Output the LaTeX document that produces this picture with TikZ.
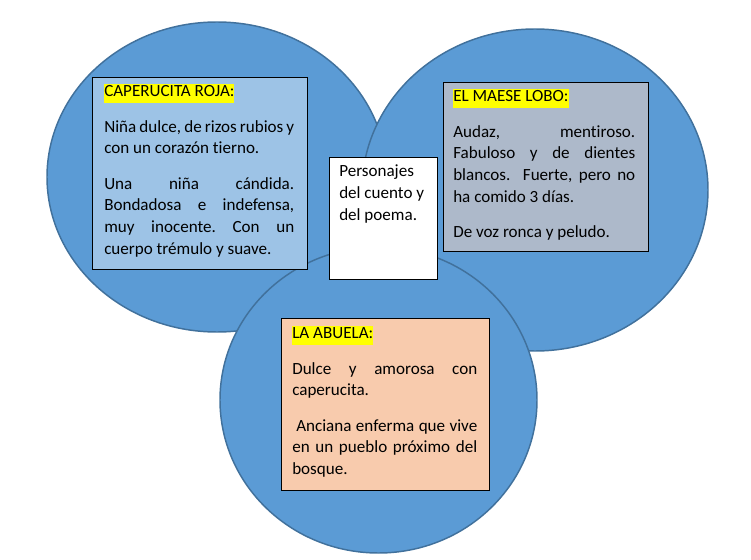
\documentclass[tikz,border=0pt]{standalone}
\usepackage{fontspec}
\setmainfont{Carlito}[Ligatures={NoCommon}]
\usetikzlibrary{shapes.geometric}
\definecolor{circfill}{HTML}{5B9BD5}
\definecolor{circline}{HTML}{41719C}
\definecolor{caperfill}{HTML}{9DC3E6}
\definecolor{lobofill}{HTML}{ADB9CA}
\definecolor{abuefill}{HTML}{F8CBAD}
\definecolor{hlyellow}{HTML}{FFFF00}
\frenchspacing
\newcommand\hlt[1]{{\setlength\fboxsep{0pt}\colorbox{hlyellow}{\rule[-4.3pt]{0pt}{13.8pt}#1}}}
\newcommand\JL[1]{\makebox[\linewidth][s]{#1}}
\newcommand\blocktext[3]{\parbox[t]{#1}{\fontsize{12.8pt}{#2}\selectfont\frenchspacing\setlength\parskip{10.125pt}\setlength\parindent{0pt}#3}}
\begin{document}
\begin{tikzpicture}[x=0.75pt,y=-0.75pt,
  circ/.style={ellipse,draw=circline,line width=1.1pt,fill=circfill,inner sep=0pt},
  card/.style={rectangle,draw=black,line width=0.9pt,inner sep=0pt,anchor=north west},
  txt/.style={anchor=base west,inner sep=0pt,text=black}]
\useasboundingbox (0,0) rectangle (751,560);
% circles
\node[circ,minimum width=340*0.75pt,minimum height=310*0.75pt] (cleft) at (217,177) {};
\node[circ,minimum width=346*0.75pt,minimum height=322*0.75pt] (cright) at (535,190) {};
\node[circ,minimum width=317*0.75pt,minimum height=306*0.75pt] (cbottom) at (378.5,400) {};
% boxes
\node[card,fill=caperfill,minimum width=215*0.75pt,minimum height=192*0.75pt] (bcaper) at (92,77) {};
\node[card,fill=lobofill,minimum width=205*0.75pt,minimum height=169*0.75pt] (blobo) at (443,82) {};
\node[card,fill=abuefill,minimum width=208*0.75pt,minimum height=172*0.75pt] (babue) at (281,318) {};
\node[card,fill=white,minimum width=108*0.75pt,minimum height=122*0.75pt] (bcenter) at (329,157) {};
% texts
\node[txt] (tcaper) at (104,97) {\blocktext{142.5pt}{16.275pt}{%
\hlt{CAPERUCITA ROJA:}\par
\JL{Niña dulce, de rizos rubios y}\\
con un corazón tierno.\par
\JL{Una niña cándida.}\\
\JL{Bondadosa e indefensa,}\\
\JL{muy inocente. Con un}\\
cuerpo trémulo y suave.}};
\node[txt] (tlobo) at (453,102) {\blocktext{136.5pt}{16.275pt}{%
\hlt{EL MAESE LOBO:}\par
\JL{Audaz, mentiroso.}\\
\JL{Fabuloso y de dientes}\\
\JL{blancos.\ \ Fuerte, pero no}\\
ha comido 3 días.\par
De voz ronca y peludo.}};
\node[txt] (tabue) at (292,339) {\blocktext{138.75pt}{16.275pt}{%
\hlt{LA ABUELA:}\par
\JL{Dulce y amorosa con}\\
caperucita.\par
\JL{\hspace{3pt}Anciana enferma que vive}\\
\JL{en un pueblo próximo del}\\
bosque.}};
\node[txt] (tcenter) at (339,176) {\blocktext{80pt}{16.6pt}{%
Personajes\\
del cuento y\\
del poema.}};
\end{tikzpicture}
\end{document}
